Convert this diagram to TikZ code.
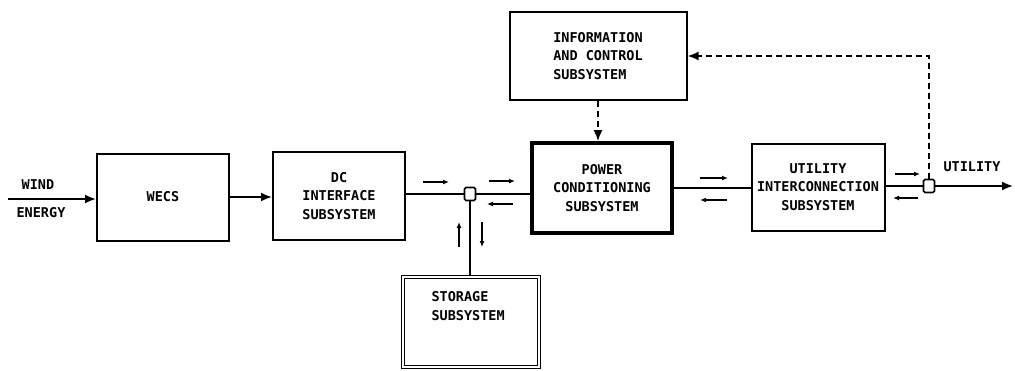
\documentclass[tikz,border=0pt]{standalone}
\usepackage{fontspec}
\setmainfont{DejaVu Sans Mono}
\usetikzlibrary{arrows.meta}

\begin{document}
\begin{tikzpicture}[x=1pt,y=-1pt,
        box/.style={draw,line width=2pt,align=center,inner sep=0pt},
        txt/.style={font=\fontsize{13.5}{18.5}\selectfont\bfseries},
        line/.style={line width=1.8pt},
        big/.style={-{Latex[length=11pt,width=9pt]}},
        ctrl/.style={dash pattern=on 6pt off 4pt},
        flow/.style={line width=2pt,-{Latex[length=6pt,width=5pt]}},
        junc/.style={draw,line width=1.6pt,rounded corners=1.5pt,minimum width=11pt,minimum height=13pt,inner sep=0pt,fill=white}]
            \useasboundingbox (0,0) rectangle (1015,370);

            \node[box,txt,minimum width=132pt,minimum height=87pt] (wecs) at (163,197){WECS};
            \node[box,txt,minimum width=132pt,minimum height=88pt] (dcif) at (339,196){DC\\INTERFACE\\SUBSYSTEM};
            \node[box,txt,line width=3.8pt,minimum width=140pt,minimum height=90pt] (pcs) at (602,188){POWER\\CONDITIONING\\SUBSYSTEM};
            \node[box,txt,align=left,minimum width=177pt,minimum height=88pt] (ics) at (598,56){INFORMATION\\AND CONTROL\\SUBSYSTEM};
            \node[box,txt,minimum width=133pt,minimum height=87pt] (uis) at (818,187){UTILITY\\INTERCONNECTION\\SUBSYSTEM};
            \node[box,line width=1.5pt,double,double distance=1.4pt,minimum width=136pt,minimum height=90pt] (stor) at (471,322){};
            \node[txt,align=left,anchor=north west] (stortxt) at (428,288){STORAGE\\SUBSYSTEM};

            \node[junc] (j1) at (470,194){};
            \node[junc] (j2) at (929,186){};

            \node[txt] (wind) at (38,185){WIND};
            \node[txt] (energy) at (41,213){ENERGY};
            \node[txt] (util) at (972,167){UTILITY};

            \coordinate (windin) at (8,199);
            \coordinate (utilout) at (1013,186);

            \draw[line,big] (windin) -- (windin -| wecs.west);
            \draw[line,big] (wecs.east) -- (wecs.east -| dcif.west);
            \draw[line] (dcif.east |- j1) -- (j1);
            \draw[line] (j1) -- (j1 -| pcs.west);
            \draw[line] (j1.south) -- (j1.south |- stor.north);
            \draw[line] (pcs.east) -- (pcs.east -| uis.west);
            \draw[line] (uis.east |- j2) -- (j2);
            \draw[line,big] (j2) -- (utilout);

            \draw[line,ctrl,big] (ics.south) -- (ics.south |- pcs.north);
            \draw[line,ctrl,big] (j2.north) |- (ics.east);

            \draw[flow] (423,182) -- (449,182);
            \draw[flow] (489,181) -- (515,181);
            \draw[flow] (513,204) -- (487,204);
            \draw[flow] (459,247) -- (459,222);
            \draw[flow] (482,222) -- (482,247);
            \draw[flow] (700,178) -- (728,178);
            \draw[flow] (727,200) -- (700,200);
            \draw[flow] (895,174) -- (920,174);
            \draw[flow] (918,198) -- (893,198);
        \end{tikzpicture}
\end{document}
